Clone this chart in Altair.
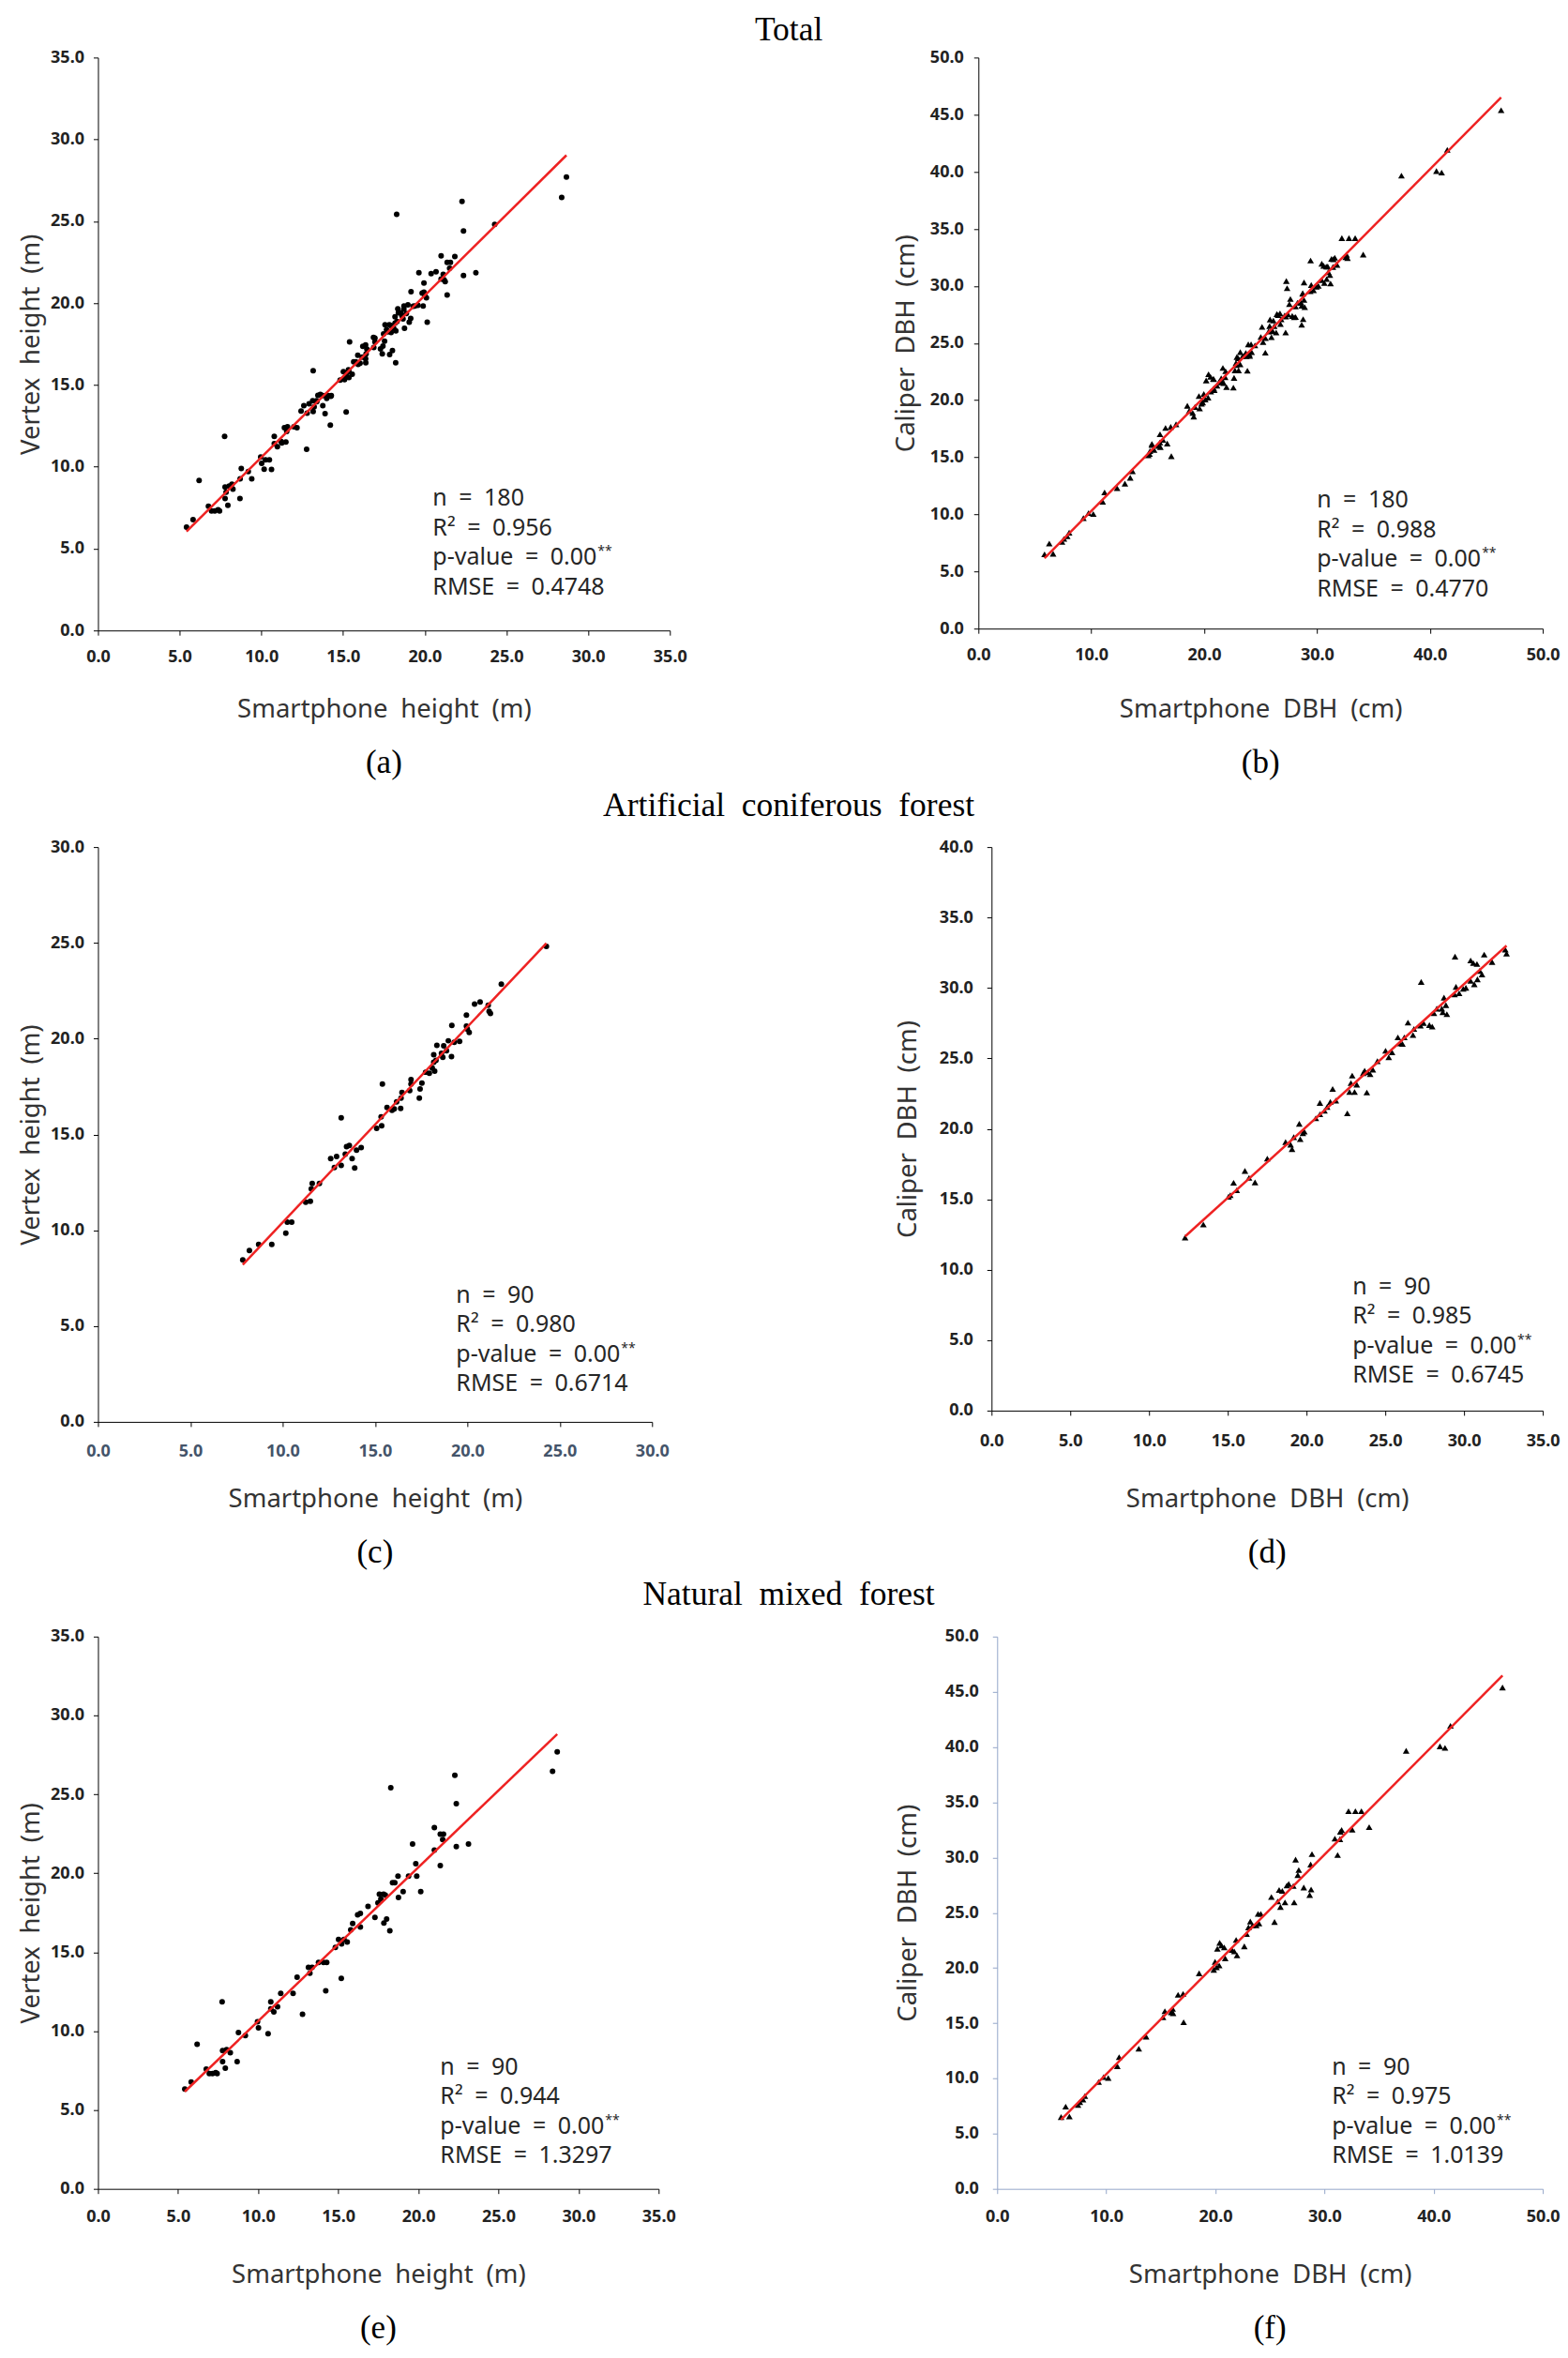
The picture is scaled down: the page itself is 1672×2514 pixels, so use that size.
import altair as alt
import pandas as pd

# ---------------- data ----------------
# Artificial coniferous forest - height (panel c)
c_x = [7.84, 8.2, 8.7, 9.41, 10.17, 10.25, 10.49, 11.25, 11.5, 11.55, 11.6, 11.99, 12.6, 12.8, 12.92, 13.17, 13.17, 13.39, 13.46, 13.61, 13.76, 13.9, 14.0, 14.25, 15.09, 15.33, 15.36, 15.4, 15.65, 15.92, 16.04, 16.17, 16.39, 16.41, 16.46, 16.88, 16.95, 16.95, 17.4, 17.44, 17.54, 17.74, 17.94, 18.1, 18.18, 18.18, 18.23, 18.3, 18.35, 18.6, 18.67, 18.72, 18.87, 18.97, 19.14, 19.16, 19.29, 19.58, 19.95, 19.95, 20.0, 20.1, 20.39, 20.69, 21.13, 21.18, 21.25, 21.84, 24.28]
c_y = [8.45, 8.94, 9.26, 9.26, 9.85, 10.42, 10.42, 11.46, 11.51, 12.16, 12.44, 12.44, 13.74, 13.27, 13.85, 13.38, 15.87, 13.97, 14.36, 14.42, 13.74, 13.25, 14.18, 14.31, 15.32, 15.92, 15.45, 17.63, 16.41, 16.26, 16.33, 16.7, 16.36, 16.9, 17.19, 17.29, 17.86, 17.63, 16.9, 17.37, 17.68, 18.25, 18.2, 18.46, 18.77, 19.16, 18.3, 18.87, 19.65, 19.24, 19.03, 19.63, 19.37, 19.89, 19.06, 20.69, 19.81, 19.86, 21.23, 20.66, 20.5, 20.33, 21.8, 21.91, 21.75, 21.42, 21.31, 22.84, 24.81]

# Artificial coniferous forest - DBH (panel d)
d_x = [12.29, 13.45, 15.05, 15.16, 15.37, 15.57, 16.09, 16.35, 16.73, 17.51, 18.67, 18.99, 19.08, 19.19, 19.54, 19.6, 19.77, 19.86, 20.59, 20.85, 20.85, 21.14, 21.31, 21.51, 21.66, 21.86, 22.59, 22.73, 22.82, 22.9, 23.05, 23.19, 23.6, 23.69, 23.83, 23.89, 24.04, 24.21, 24.5, 25.02, 25.22, 25.43, 25.8, 25.95, 26.09, 26.21, 26.44, 26.76, 26.82, 27.23, 27.28, 27.43, 27.8, 27.98, 28.09, 28.27, 28.59, 28.65, 28.73, 28.85, 28.91, 29.4, 29.43, 29.49, 29.69, 29.95, 30.12, 30.42, 30.42, 30.59, 30.65, 30.82, 30.85, 31.0, 31.14, 31.28, 31.78, 32.62, 32.7]
d_y = [12.29, 13.21, 15.18, 15.29, 16.17, 15.64, 17.01, 16.52, 16.2, 17.89, 19.06, 18.88, 18.56, 19.41, 20.36, 19.27, 19.69, 19.8, 20.75, 21.84, 21.03, 21.28, 21.56, 21.91, 22.83, 22.01, 21.1, 22.61, 23.25, 23.78, 22.61, 23.14, 23.95, 24.13, 22.58, 24.02, 23.88, 24.2, 24.8, 25.54, 25.08, 25.43, 26.49, 26.07, 26.03, 26.49, 27.54, 26.66, 27.09, 27.33, 30.43, 27.51, 27.37, 27.26, 28.21, 28.53, 28.53, 28.28, 29.31, 28.78, 28.14, 29.55, 32.23, 30.08, 29.62, 29.94, 30.01, 30.5, 31.95, 31.77, 30.26, 31.7, 30.61, 31.21, 30.96, 32.37, 31.84, 32.72, 32.44]

# Natural mixed forest - height (panel e)
e_x = [5.42, 5.82, 6.19, 6.76, 6.95, 7.15, 7.35, 7.44, 7.75, 7.78, 7.78, 7.95, 8.03, 8.26, 8.69, 8.77, 9.2, 9.96, 10.02, 10.62, 10.79, 10.79, 10.98, 11.21, 11.41, 12.18, 12.43, 12.77, 13.14, 13.23, 13.37, 13.77, 14.08, 14.22, 14.28, 14.82, 15.02, 15.19, 15.21, 15.36, 15.56, 15.78, 15.9, 16.21, 16.38, 16.38, 16.86, 17.29, 17.48, 17.57, 17.66, 17.83, 17.85, 17.94, 18.02, 18.22, 18.28, 18.39, 18.53, 18.73, 18.76, 19.05, 19.39, 19.64, 19.84, 19.9, 20.15, 21.0, 21.0, 21.37, 21.37, 21.52, 21.57, 22.28, 22.37, 22.37, 23.13, 28.38, 28.67]
e_y = [6.32, 6.77, 9.17, 7.59, 7.3, 7.3, 7.37, 7.3, 11.86, 8.06, 8.76, 7.65, 8.82, 8.63, 8.06, 9.9, 9.71, 10.59, 10.21, 9.83, 11.86, 11.41, 11.22, 11.54, 12.39, 12.39, 13.41, 11.07, 14.04, 13.66, 14.04, 14.35, 14.35, 12.55, 14.35, 15.3, 15.81, 13.34, 15.52, 15.81, 15.65, 16.41, 16.82, 17.36, 17.45, 16.6, 17.9, 17.2, 18.12, 18.68, 18.37, 18.68, 16.85, 18.62, 17.1, 16.35, 25.42, 19.41, 19.41, 19.82, 18.46, 18.84, 19.82, 21.85, 20.61, 19.82, 18.84, 22.89, 21.47, 20.49, 22.48, 22.13, 22.48, 26.21, 24.41, 21.69, 21.85, 26.46, 27.7]

# Natural mixed forest - DBH (panel f)
f_x = [5.86, 6.28, 6.62, 7.41, 7.58, 7.87, 8.04, 9.3, 9.76, 10.18, 11.01, 11.18, 12.98, 13.65, 15.2, 15.37, 15.95, 16.08, 16.12, 16.58, 17.04, 17.09, 18.51, 19.85, 19.97, 20.1, 20.18, 20.35, 20.39, 20.56, 20.81, 20.9, 21.52, 21.73, 21.9, 21.98, 22.65, 22.86, 23.03, 23.2, 23.41, 23.74, 23.91, 24.0, 24.16, 25.13, 25.42, 25.71, 25.84, 25.96, 26.13, 26.38, 26.55, 26.72, 27.14, 27.22, 27.35, 27.55, 27.64, 28.1, 28.64, 28.73, 28.77, 28.85, 30.95, 31.2, 31.41, 31.45, 31.57, 32.2, 32.54, 32.83, 33.38, 34.09, 37.48, 40.58, 41.04, 41.54, 46.31]
f_y = [6.5, 7.45, 6.55, 7.59, 7.86, 8.08, 8.4, 9.67, 10.12, 10.03, 11.11, 11.92, 12.69, 13.78, 15.54, 16.08, 15.99, 16.3, 15.9, 17.57, 17.66, 15.09, 19.51, 19.83, 20.55, 20.05, 21.73, 20.23, 22.27, 22.04, 21.86, 20.87, 21.64, 21.5, 22.54, 21.14, 21.95, 23.08, 23.67, 24.21, 23.85, 23.85, 24.89, 24.03, 24.89, 26.42, 24.16, 26.02, 27.06, 25.52, 26.97, 25.93, 27.46, 27.6, 27.42, 25.93, 29.81, 28.41, 28.86, 27.28, 26.6, 29.36, 27.1, 30.31, 31.71, 30.22, 31.66, 32.34, 32.48, 34.19, 32.52, 34.19, 34.19, 32.75, 39.66, 40.06, 39.93, 41.92, 45.39]

# Total = artificial + natural
a_x = c_x + e_x
a_y = c_y + e_y
b_x = d_x + f_x
b_y = d_y + f_y

ES = "\u2002"
section_titles = ["Total", "Artificial" + ES + "coniferous" + ES + "forest", "Natural" + ES + "mixed" + ES + "forest"]
sub_labels = ["(a)", "(b)", "(c)", "(d)", "(e)", "(f)"]
n_vals = ["180", "180", "90", "90", "90", "90"]
r2_vals = ["0.956", "0.988", "0.980", "0.985", "0.944", "0.975"]
p_vals = ["0.00", "0.00", "0.00", "0.00", "0.00", "0.00"]
rmse_vals = ["0.4748", "0.4770", "0.6714", "0.6745", "1.3297", "1.0139"]

H_XT = "Smartphone" + ES + "height" + ES + "(m)"
H_YT = "Vertex" + ES + "height" + ES + "(m)"
D_XT = "Smartphone" + ES + "DBH" + ES + "(cm)"
D_YT = "Caliper" + ES + "DBH" + ES + "(cm)"

FONT = "Noto Sans"
SERIF = "Liberation Serif"


def ticks(mx, step):
    return [float(v) for v in range(0, mx + 1, step)]


def panel(xs, ys, idx, shape, msize, s):
    df = pd.DataFrame({"x": xs, "y": ys})
    ac = s.get("axis_color", "#000000")
    common = dict(grid=False, format=".1f", domainColor=ac, tickColor=ac, tickSize=5,
                  domainWidth=1, tickWidth=1,
                  labelFont=FONT, labelFontSize=18, labelFontWeight="bold",
                  labelFlush=False, labelOverlap=False,
                  titleFont=FONT, titleFontSize=27.5, titleFontWeight="normal", titleColor="#333333")
    xaxis = alt.Axis(values=ticks(s["xmax"], s["xstep"]), labelColor=s.get("xlc", "#222222"),
                     labelPadding=s["xlp"], minExtent=35, maxExtent=35, titlePadding=s["xtp"], **common)
    yaxis = alt.Axis(values=ticks(s["ymax"], s["ystep"]), labelColor="#222222",
                     labelPadding=s["ylp"], minExtent=s["yext"], maxExtent=s["yext"],
                     titlePadding=s["ytp"], **common)
    base = alt.Chart(df)
    pts = base.mark_point(shape=shape, filled=True, color="#000000", size=msize, opacity=1,
                          strokeWidth=0).encode(
        x=alt.X("x:Q", scale=alt.Scale(domain=[0, s["xmax"]], nice=False, zero=True),
                axis=xaxis, title=s["xt"]),
        y=alt.Y("y:Q", scale=alt.Scale(domain=[0, s["ymax"]], nice=False, zero=True),
                axis=yaxis, title=s["yt"]),
    )
    line = base.transform_regression("x", "y").mark_line(color="#ee2222", strokeWidth=2.5).encode(
        x="x:Q", y="y:Q")
    lines = ["n" + ES + "=" + ES + n_vals[idx],
             "R\u00b2" + ES + "=" + ES + r2_vals[idx],
             "p-value" + ES + "=" + ES + p_vals[idx],
             "RMSE" + ES + "=" + ES + rmse_vals[idx]]
    one = pd.DataFrame({"k": [0]})
    ann = alt.Chart(one).mark_text(text=lines, align="left", baseline="alphabetic", font=FONT,
                                   fontSize=25, color="#262626", lineHeight=31.5).encode(
        x=alt.value(s["tx"]), y=alt.value(s["ty"]))
    stars = alt.Chart(one).mark_text(text="**", align="left", baseline="alphabetic", font=FONT,
                                     fontSize=14, color="#262626").encode(
        x=alt.value(s["tx"] + 176), y=alt.value(s["ty"] + 63 - 10))
    return alt.layer(pts, line, ann, stars).properties(
        width=s["w"], height=s["h"],
        title=alt.TitleParams(sub_labels[idx], orient="bottom", font=SERIF, fontSize=35,
                              fontWeight="normal", color="#000000", anchor="middle", offset=26),
    )


spec_a = dict(xmax=35, xstep=5, ymax=35, ystep=5, xt=H_XT, yt=H_YT, w=610, h=611,
              xlp=14.7, xtp=35.2, ylp=10, yext=53, ytp=4.4, tx=357, ty=478)
spec_b = dict(xmax=50, xstep=10, ymax=50, ystep=5, xt=D_XT, yt=D_YT, w=602, h=609,
              xlp=14.7, xtp=37.2, ylp=11, yext=54, ytp=8.9, tx=361, ty=480)
spec_c = dict(xmax=30, xstep=5, ymax=30, ystep=5, xt=H_XT, yt=H_YT, w=591, h=613,
              xlp=17.7, xtp=33.2, ylp=10, yext=53, ytp=4.4, tx=382, ty=486, xlc="#44546A")
spec_d = dict(xmax=35, xstep=5, ymax=40, ystep=5, xt=D_XT, yt=D_YT, w=588, h=601,
              xlp=18.7, xtp=45.2, ylp=15, yext=58, ytp=16.9, tx=385, ty=477)
spec_e = dict(xmax=35, xstep=5, ymax=35, ystep=5, xt=H_XT, yt=H_YT, w=598, h=589,
              xlp=15.7, xtp=43.2, ylp=10, yext=53, ytp=4.4, tx=365, ty=467)
spec_f = dict(xmax=50, xstep=10, ymax=50, ystep=5, xt=D_XT, yt=D_YT, w=582, h=589,
              xlp=15.7, xtp=43.2, ylp=15, yext=58, ytp=22.9, tx=357, ty=467,
              axis_color="#94A6C9")

pa = panel(a_x, a_y, 0, "circle", 36, spec_a)
pb = panel(b_x, b_y, 1, "triangle-up", 50, spec_b)
pc = panel(c_x, c_y, 2, "circle", 36, spec_c)
pd_ = panel(d_x, d_y, 3, "triangle-up", 50, spec_d)
pe = panel(e_x, e_y, 4, "circle", 36, spec_e)
pf = panel(f_x, f_y, 5, "triangle-up", 50, spec_f)


def sec_title(t, off):
    return alt.TitleParams(t, font=SERIF, fontSize=35.5, fontWeight="normal", color="#000000",
                           anchor="middle", offset=off)


row1 = alt.hconcat(pa, pb, spacing=220.1, title=sec_title(section_titles[0], 2))
row2 = alt.hconcat(pc, pd_, spacing=241.1, title=sec_title(section_titles[1], 17))
row3 = alt.hconcat(pe, pf, spacing=234.1, title=sec_title(section_titles[2], 17))

chart = alt.concat(row1, row2, row3, columns=1, spacing=10, align="none").properties(
    padding={"left": 10.5, "top": 6, "right": 0, "bottom": 0}, background="#ffffff"
).configure_view(stroke=None)

chart.save("out.html", embed_options={"renderer": "svg", "actions": False})
